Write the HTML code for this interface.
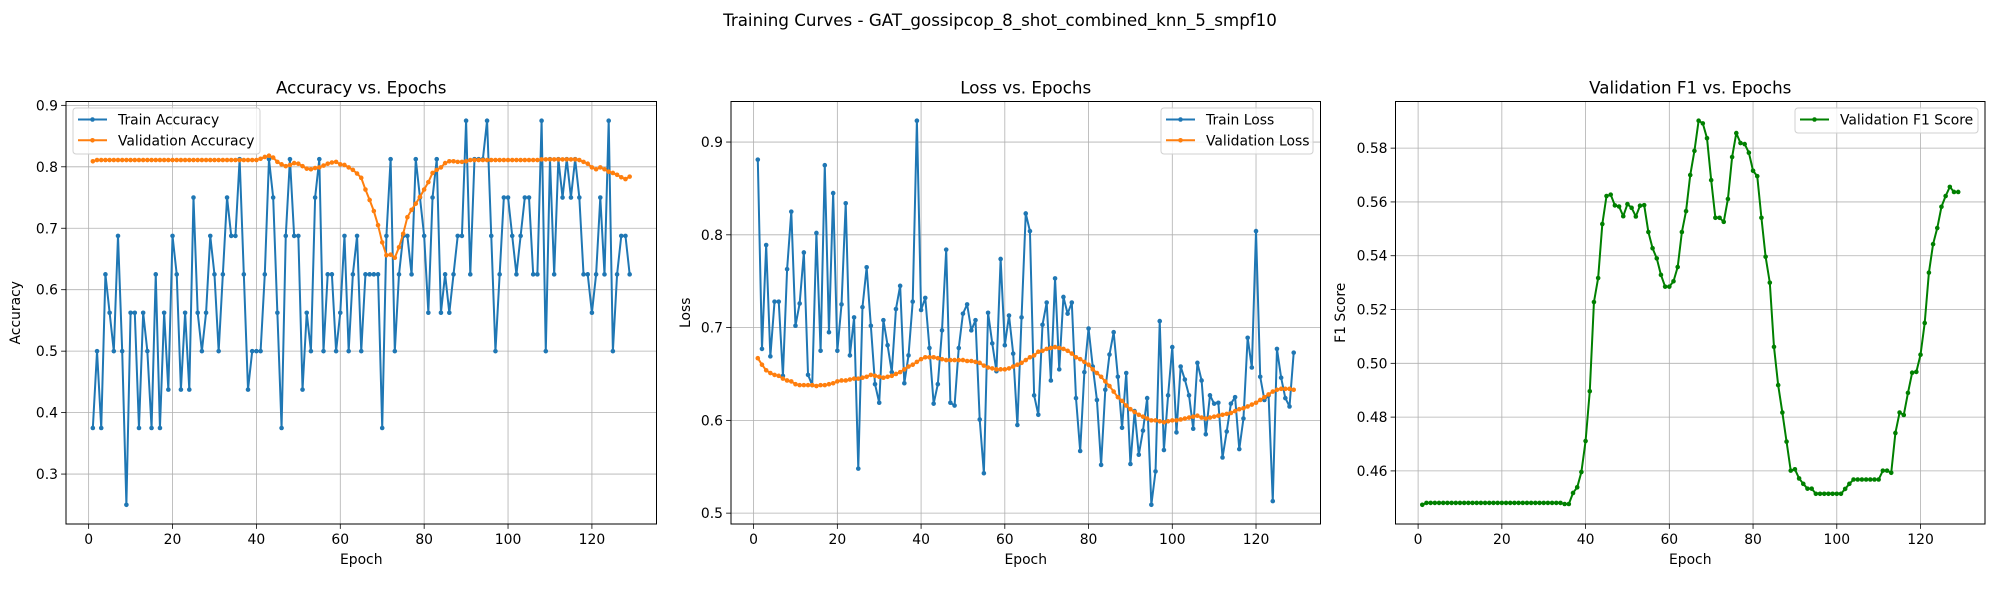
<!DOCTYPE html>
<html><head><meta charset="utf-8"><title>Training Curves</title>
<style>
html,body{margin:0;padding:0;background:#fff;}
svg{display:block;font-family:"DejaVu Sans","Liberation Sans",sans-serif;}
</style></head>
<body>
<svg id="fig" width="2000" height="600" viewBox="0 0 2000 600" xmlns="http://www.w3.org/2000/svg">
<rect width="2000" height="600" fill="#fff"/>
<text x="1000" y="26" text-anchor="middle" font-size="16.7" fill="#000">Training Curves - GAT_gossipcop_8_shot_combined_knn_5_smpf10</text>
</svg>
<script>
const trainAcc=[.375,.5,.375,.625,.5625,.5,.6875,.5,.25,.5625,
.5625,.375,.5625,.5,.375,.625,.375,.5625,.4375,.6875,
.625,.4375,.5625,.4375,.75,.5625,.5,.5625,.6875,.625,
.5,.625,.75,.6875,.6875,.8125,.625,.4375,.5,.5,
.5,.625,.8125,.75,.5625,.375,.6875,.8125,.6875,.6875,
.4375,.5625,.5,.75,.8125,.5,.625,.625,.5,.5625,
.6875,.5,.625,.6875,.5,.625,.625,.625,.625,.375,
.6875,.8125,.5,.625,.6875,.6875,.625,.8125,.75,.6875,
.5625,.75,.8125,.5625,.625,.5625,.625,.6875,.6875,.875,
.625,.8125,.8125,.8125,.875,.6875,.5,.625,.75,.75,
.6875,.625,.6875,.75,.75,.625,.625,.875,.5,.8125,
.625,.8125,.75,.8125,.75,.8125,.75,.625,.625,.5625,
.625,.75,.625,.875,.5,.625,.6875,.6875,.625];
const valAcc=[.809,.811,.811,.811,.811,.811,.811,.811,.811,.811,
.811,.811,.811,.811,.811,.811,.811,.811,.811,.811,
.811,.811,.811,.811,.811,.811,.811,.811,.811,.811,
.811,.811,.811,.811,.811,.811,.811,.811,.811,.811,
.813,.816,.818,.815,.808,.804,.801,.803,.806,.805,
.801,.797,.796,.798,.799,.802,.805,.807,.808,.804,
.803,.799,.795,.789,.782,.763,.746,.728,.705,.677,
.656,.657,.652,.669,.691,.718,.730,.740,.751,.763,
.775,.790,.795,.799,.806,.809,.809,.808,.808,.809,
.811,.811,.811,.811,.811,.811,.811,.811,.811,.811,
.811,.811,.811,.811,.811,.811,.811,.812,.812,.812,
.812,.812,.812,.812,.812,.812,.811,.808,.805,.799,
.796,.799,.796,.792,.790,.787,.783,.780,.784];
const trainLoss=[.881,.677,.789,.669,.728,.728,.648,.763,.825,.702,
.726,.781,.649,.638,.802,.675,.875,.695,.845,.675,
.725,.834,.670,.711,.548,.722,.765,.702,.639,.619,
.708,.681,.652,.720,.745,.640,.670,.728,.923,.719,
.732,.678,.618,.639,.697,.784,.619,.616,.678,.715,
.725,.697,.708,.601,.543,.716,.683,.653,.774,.681,
.713,.672,.595,.711,.823,.804,.627,.606,.703,.727,
.643,.753,.655,.733,.715,.727,.624,.567,.652,.699,
.658,.622,.552,.633,.671,.695,.647,.592,.651,.553,
.610,.563,.589,.624,.509,.545,.707,.568,.627,.679,
.587,.658,.644,.627,.591,.662,.643,.585,.627,.618,
.619,.560,.588,.618,.625,.569,.602,.689,.657,.804,
.647,.622,.627,.513,.677,.646,.624,.615,.673];
const valLoss=[.667,.660,.654,.651,.649,.648,.645,.643,.642,.639,
.638,.638,.638,.638,.637,.638,.638,.639,.640,.642,
.643,.643,.644,.645,.645,.646,.647,.649,.648,.647,
.646,.647,.648,.650,.652,.655,.658,.660,.663,.666,
.668,.668,.668,.667,.666,.665,.665,.665,.665,.665,
.664,.664,.663,.662,.659,.657,.656,.655,.655,.655,
.656,.658,.660,.662,.665,.668,.670,.674,.675,.677,
.678,.679,.678,.677,.675,.672,.668,.666,.663,.660,
.655,.651,.647,.642,.637,.631,.625,.621,.616,.612,
.609,.606,.604,.602,.600,.600,.599,.598,.599,.600,
.600,.601,.602,.603,.604,.605,.603,.602,.603,.604,
.605,.606,.607,.608,.610,.612,.613,.615,.617,.619,
.622,.625,.628,.631,.633,.634,.634,.634,.633];
const valF1=[.4474,.4481,.4481,.4481,.4481,.4481,.4481,.4481,.4481,.4481,
.4481,.4481,.4481,.4481,.4481,.4481,.4481,.4481,.4481,.4481,
.4481,.4481,.4481,.4481,.4481,.4481,.4481,.4481,.4481,.4481,
.4481,.4481,.4481,.4481,.4477,.4477,.4518,.4539,.4596,.4711,
.4896,.5228,.5317,.5518,.5622,.5627,.5587,.5583,.5547,.5592,
.5578,.5546,.5586,.5588,.5488,.5428,.5390,.5329,.5285,.5285,
.5305,.5358,.5488,.5566,.5700,.5790,.5902,.5892,.5837,.5681,
.5541,.5541,.5526,.5611,.5767,.5856,.5819,.5815,.5783,.5716,
.5696,.5541,.5396,.5300,.5061,.4919,.4817,.4709,.4601,.4606,
.4572,.4552,.4534,.4534,.4515,.4515,.4515,.4515,.4515,.4515,
.4515,.4533,.4552,.4568,.4568,.4568,.4568,.4568,.4568,.4568,
.4601,.4601,.4593,.4741,.4817,.4808,.4890,.4965,.4968,.5032,
.5150,.5337,.5443,.5503,.5582,.5622,.5656,.5637,.5637];
const xTicks=[0,20,40,60,80,100,120];
const accTicks=[0.2,0.3,0.4,0.5,0.6,0.7,0.8,0.9];
const lossTicks=[0.5,0.6,0.7,0.8,0.9];
const f1Ticks=[0.44,0.46,0.48,0.50,0.52,0.54,0.56,0.58];

const NS='http://www.w3.org/2000/svg';
const fig=document.getElementById('fig');
function mk(tag,attrs,parent){const e=document.createElementNS(NS,tag);for(const k in attrs)e.setAttribute(k,attrs[k]);(parent||fig).appendChild(e);return e;}

function chart(o){
  const g=mk('g',{});
  
  
  const L=o.box[0],T=o.box[1],R=o.box[2],B=o.box[3];
  let all=[];o.series.forEach(s=>all=all.concat(s.data));
  const n=o.series[0].data.length;
  const xmin=1,xmax=n,xm=(xmax-xmin)*0.05;
  const X0=xmin-xm,X1=xmax+xm;
  const ymin=Math.min(...all),ymax=Math.max(...all),ym=(ymax-ymin)*0.05;
  const Y0=ymin-ym,Y1=ymax+ym;
  const xs=v=>L+(v-X0)/(X1-X0)*(R-L);
  const ys=v=>B-(v-Y0)/(Y1-Y0)*(B-T);
  // grid + ticks
  xTicks.filter(v=>v>=X0&&v<=X1).forEach(v=>{
    const x=xs(v);
    const gl=mk('line',{x1:x,x2:x,y1:T,y2:B,stroke:'#b0b0b0','stroke-width':0.8},g);
    
    
    mk('line',{x1:x,x2:x,y1:B,y2:B+4.9,stroke:'#000','stroke-width':0.8},g);
    const t=mk('text',{x:x,y:B+20,'text-anchor':'middle','font-size':13.9,fill:'#000'},g);
    t.textContent=String(v);
    
    
  });
  o.yTicks.filter(v=>v>=Y0&&v<=Y1).forEach(v=>{
    const y=ys(v);
    const gl=mk('line',{x1:L,x2:R,y1:y,y2:y,stroke:'#b0b0b0','stroke-width':0.8},g);
    
    
    mk('line',{x1:L-4.9,x2:L,y1:y,y2:y,stroke:'#000','stroke-width':0.8},g);
    const t=mk('text',{x:L-8,y:y+5,'text-anchor':'end','font-size':13.9,fill:'#000'},g);
    t.textContent=v.toFixed(o.dec);
    
    
  });
  // series
  o.series.forEach(s=>{
    const sg=mk('g',{},g);
    
    
    const pts=s.data.map((v,i)=>xs(i+1).toFixed(2)+','+ys(v).toFixed(2)).join(' ');
    const pl=mk('polyline',{points:pts,fill:'none',stroke:s.color,'stroke-width':2,'stroke-linejoin':'round'},sg);
    
    
    s.data.forEach((v,i)=>{
      const c=mk('circle',{cx:xs(i+1),cy:ys(v),r:2.3,fill:s.color},sg);
      
      
    });
  });
  // frame
  const fr=mk('rect',{x:L,y:T,width:R-L,height:B-T,fill:'none',stroke:'#000','stroke-width':1},g);
  
  
  // titles
  const tt=mk('text',{x:(L+R)/2,y:T-8,'text-anchor':'middle','font-size':16.7,fill:'#000'},g);
  tt.textContent=o.title;
  
  
  const xl=mk('text',{x:(L+R)/2,y:B+40,'text-anchor':'middle','font-size':13.9,fill:'#000'},g);
  xl.textContent='Epoch';
  
  
  const yl=mk('text',{x:0,y:0,'text-anchor':'middle','font-size':13.9,fill:'#000',transform:'translate('+o.ylx+','+((T+B)/2)+') rotate(-90)'},g);
  yl.textContent=o.ylabel;
  
  
  // legend
  const lg=mk('g',{},g);
  
  
  const lb=o.legend;
  mk('rect',{x:lb.x,y:lb.y,width:lb.w,height:lb.h,rx:3,fill:'#fff','fill-opacity':0.8,stroke:'#d0d0d0','stroke-width':1},lg);
  o.series.forEach((s,i)=>{
    const ey=lb.y+11.5+i*20.8;
    const eg=mk('g',{},lg);
    
    
    mk('line',{x1:lb.x+5,x2:lb.x+34,y1:ey,y2:ey,stroke:s.color,'stroke-width':2},eg);
    mk('circle',{cx:lb.x+19.5,cy:ey,r:2.3,fill:s.color},eg);
    const t=mk('text',{x:lb.x+45,y:ey+5,'font-size':13.9,fill:'#000'},eg);
    t.textContent=s.label;
  });
}

chart({name:'accuracy-chart',box:[66,101.5,656.5,524],title:'Accuracy vs. Epochs',ylabel:'Accuracy',ylx:20,yTicks:accTicks,dec:1,
  series:[{name:'train-accuracy',label:'Train Accuracy',color:'#1f77b4',data:trainAcc},
          {name:'validation-accuracy',label:'Validation Accuracy',color:'#ff7f0e',data:valAcc}],
  legend:{x:73,y:108,w:187,h:46}});
chart({name:'loss-chart',box:[731,101.5,1320.5,524],title:'Loss vs. Epochs',ylabel:'Loss',ylx:690,yTicks:lossTicks,dec:1,
  series:[{name:'train-loss',label:'Train Loss',color:'#1f77b4',data:trainLoss},
          {name:'validation-loss',label:'Validation Loss',color:'#ff7f0e',data:valLoss}],
  legend:{x:1161,y:108,w:152,h:46}});
chart({name:'f1-chart',box:[1395.5,101.5,1985,524],title:'Validation F1 vs. Epochs',ylabel:'F1 Score',ylx:1345,yTicks:f1Ticks,dec:2,
  series:[{name:'validation-f1',label:'Validation F1 Score',color:'#008000',data:valF1}],
  legend:{x:1795,y:108,w:183,h:25}});
</script>
</body></html>
